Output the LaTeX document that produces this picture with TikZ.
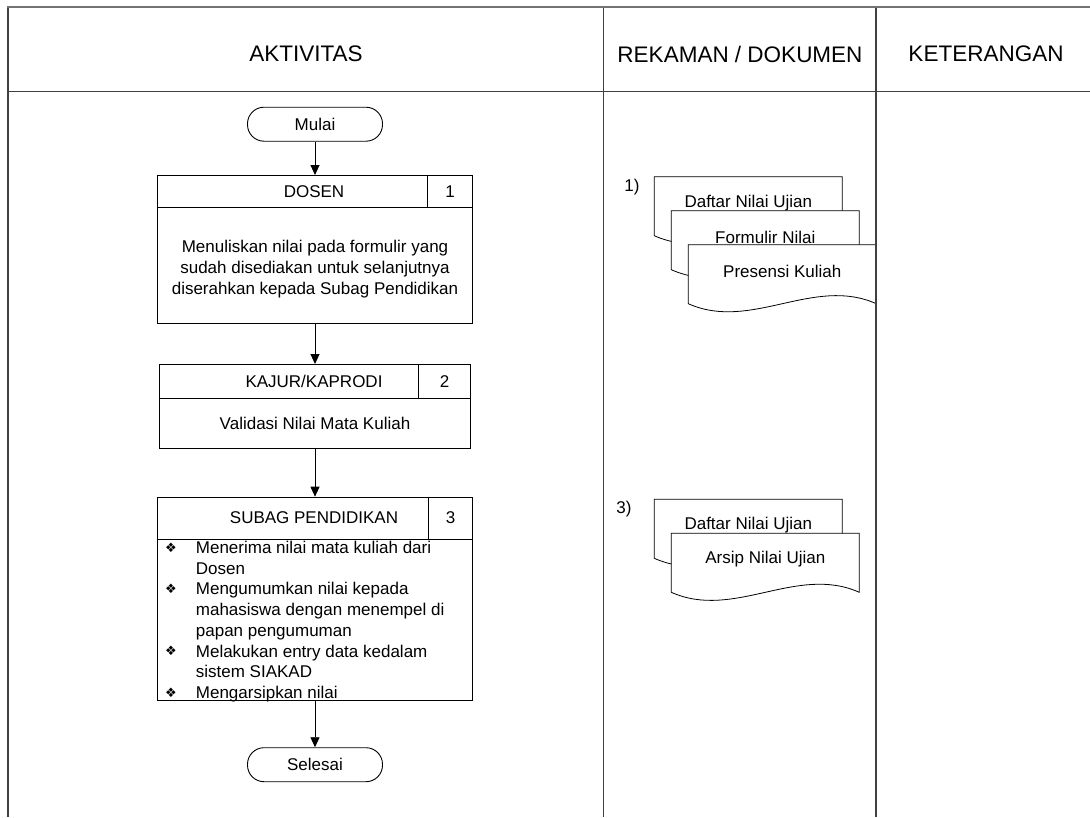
\documentclass[tikz,border=0pt]{standalone}
\usepackage{fontspec}
\setmainfont{Liberation Sans}
\newfontfamily\dejavu{DejaVu Sans}
\usetikzlibrary{arrows.meta}
\newcommand\mybody{\fontsize{17pt}{20.7pt}\selectfont}
\newcommand\myhead{\fontsize{22.5pt}{27pt}\selectfont}
\newcommand\mybullet{\makebox[30.7pt][l]{\raisebox{1.2pt}{\dejavu\fontsize{13pt}{13pt}\selectfont ❖}}}
\begin{document}
\begin{tikzpicture}[x=1pt,y=-1pt,
  gridline/.style={line width=1.8pt, draw=black!75},
  topline/.style={line width=2pt, draw=black!55},
  terminal/.style={draw, line width=0.9pt, rounded corners=16.5pt, minimum width=135pt, minimum height=34pt, inner sep=0pt, font=\mybody},
  boxframe/.style={draw, line width=0.9pt, inner sep=0pt},
  inner/.style={line width=0.9pt},
  lbl/.style={inner sep=0pt, font=\mybody},
  hdr/.style={inner sep=0pt, font=\myhead},
  flow/.style={line width=0.9pt, -{Triangle[width=9pt,length=10pt]}},
  docshape/.style={draw, fill=white, line width=0.8pt}]
\useasboundingbox (0,0) rectangle (1090,817);
\fill[white] (0,0) rectangle (1090,817);

% header texts
\node[hdr] (hakt) at (306,54) {AKTIVITAS};
\node[hdr] (hrek) at (740,54) {REKAMAN / DOKUMEN};
\node[hdr] (hket) at (986,54) {KETERANGAN};

% terminals
\node[terminal] (mulai) at (315,124.2) {Mulai};
\node[terminal] (selesai) at (315,764.7) {Selesai};

% box 1
\node[boxframe, minimum width=315pt, minimum height=147.7pt, anchor=north] (box1) at (315,175) {};
\draw[inner] (157.5,207.7) -- (472.5,207.7);
\draw[inner] (427.7,175) -- (427.7,207.7);
\node[lbl] (t1) at (314,191.4) {DOSEN};
\node[lbl] (n1) at (450,191.4) {1};
\node[lbl, align=center] (d1) at (315,269) {Menuliskan nilai pada formulir yang\\sudah disediakan untuk selanjutnya\\diserahkan kepada Subag Pendidikan};

% box 2
\node[boxframe, minimum width=311.7pt, minimum height=84.3pt, anchor=north] (box2) at (315,364) {};
\draw[inner] (159.15,398.3) -- (470.85,398.3);
\draw[inner] (418.3,364) -- (418.3,398.3);
\node[lbl] (t2) at (314,381.2) {KAJUR/KAPRODI};
\node[lbl] (n2) at (444.5,381.2) {2};
\node[lbl] (d2) at (315,423.3) {Validasi Nilai Mata Kuliah};

% box 3
\node[boxframe, minimum width=314.4pt, minimum height=203.3pt, anchor=north] (box3) at (315,496.7) {};
\draw[inner] (157.8,539.3) -- (472.2,539.3);
\draw[inner] (428.3,496.7) -- (428.3,539.3);
\node[lbl] (t3) at (314,518) {SUBAG PENDIDIKAN};
\node[lbl] (n3) at (450.5,518) {3};
\node[lbl, anchor=base west] (d3) at (165,553.5) {\begin{minipage}[t]{300pt}\mybody
\mybullet Menerima nilai mata kuliah dari\\
\hspace*{30.7pt}Dosen\\
\mybullet Mengumumkan nilai kepada\\
\hspace*{30.7pt}mahasiswa dengan menempel di\\
\hspace*{30.7pt}papan pengumuman\\
\mybullet Melakukan entry data kedalam\\
\hspace*{30.7pt}sistem SIAKAD\\
\mybullet Mengarsipkan nilai
\end{minipage}};

% connectors
\draw[flow] (mulai.south) -- (box1.north);
\draw[flow] (box1.south) -- (box2.north);
\draw[flow] (box2.south) -- (box3.north);
\draw[flow] (box3.south) -- (selesai.north);

% documents group 1
\node[lbl] (k1) at (632,187) {1)};
\path[docshape] (654.3,176.7) -- (842.3,176.7) -- (842.3,235.7) .. controls (779.6,207.7) and (717,263.7) .. (654.3,235.7) -- cycle;
\node[lbl] (doc1) at (748.3,203) {Daftar Nilai Ujian};
\path[docshape] (671.3,210.7) -- (859.3,210.7) -- (859.3,269.7) .. controls (796.6,241.7) and (734,297.7) .. (671.3,269.7) -- cycle;
\node[lbl] (doc2) at (765.3,237) {Formulir Nilai};
\path[docshape] (688.3,244.7) -- (876.3,244.7) -- (876.3,303.7) .. controls (813.6,275.7) and (751,331.7) .. (688.3,303.7) -- cycle;
\node[lbl] (doc3) at (782.3,271) {Presensi Kuliah};

% documents group 3
\node[lbl] (k3) at (624,509.5) {3)};
\path[docshape] (654.3,499.3) -- (842.3,499.3) -- (842.3,558.3) .. controls (779.6,530.3) and (717,586.3) .. (654.3,558.3) -- cycle;
\node[lbl] (docA) at (748.3,525.5) {Daftar Nilai Ujian};
\path[docshape] (671.3,533.3) -- (859.3,533.3) -- (859.3,592.3) .. controls (796.6,564.3) and (734,620.3) .. (671.3,592.3) -- cycle;
\node[lbl] (docB) at (765.3,559.5) {Arsip Nilai Ujian};

% table grid
\draw[gridline] (8,6.5) -- (8,817);
\draw[gridline] (603.5,6.5) -- (603.5,817);
\draw[gridline] (876.3,6.5) -- (876.3,817);
\draw[gridline] (8,91.5) -- (1090,91.5);
\draw[topline] (7,6.5) -- (1090,6.5);
\end{tikzpicture}
\end{document}
